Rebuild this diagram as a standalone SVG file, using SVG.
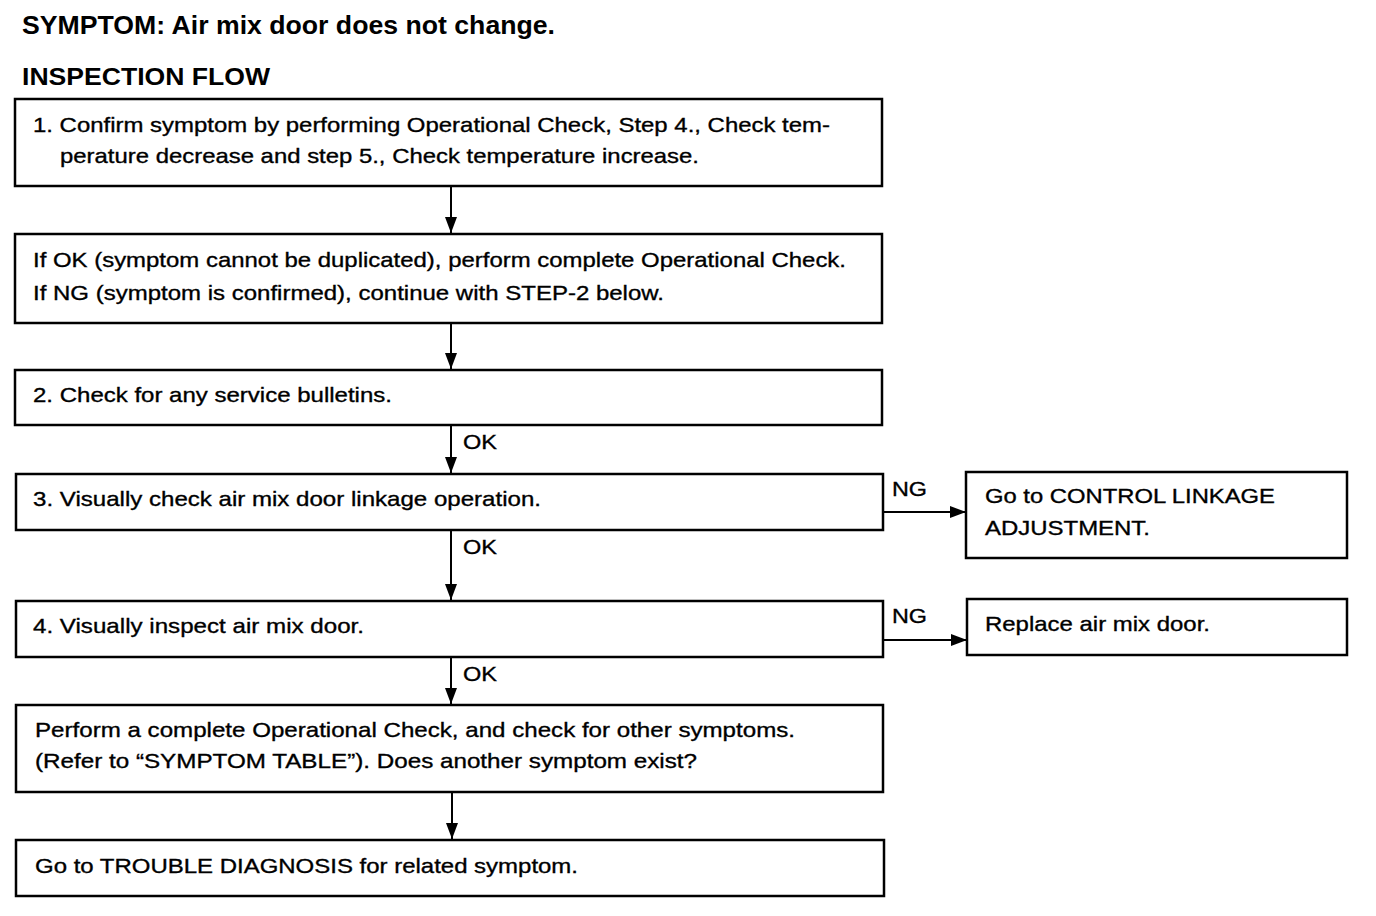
<svg xmlns="http://www.w3.org/2000/svg" width="1376" height="916" viewBox="0 0 1376 916">
<style>
rect.box{fill:#fff;stroke:#000;stroke-width:2.5}
text{font-family:"Liberation Sans",Arial,sans-serif;font-size:21px;fill:#000;stroke:#000;stroke-width:0.35}
text.h{font-weight:bold;font-size:25px;stroke-width:0}
text.h2{font-weight:bold;font-size:24px;stroke-width:0}
.c line{stroke:#000;stroke-width:2}
</style>
<defs>
<marker id="ah" viewBox="0 0 16 12" refX="16" refY="6" markerWidth="16" markerHeight="12" markerUnits="userSpaceOnUse" orient="auto">
<path d="M0,0 L16,6 L0,12 Z" fill="#000"/>
</marker>
</defs>
<rect width="1376" height="916" fill="#fff"/>
<text class="h" x="22" y="34" textLength="533" lengthAdjust="spacingAndGlyphs">SYMPTOM: Air mix door does not change.</text>
<text class="h2" x="22" y="85" textLength="248" lengthAdjust="spacingAndGlyphs">INSPECTION FLOW</text>

<g class="c">
<line x1="451" y1="186" x2="451" y2="233" marker-end="url(#ah)"/>
<line x1="451" y1="323" x2="451" y2="369" marker-end="url(#ah)"/>
<line x1="451" y1="425" x2="451" y2="473" marker-end="url(#ah)"/>
<line x1="451" y1="530" x2="451" y2="600" marker-end="url(#ah)"/>
<line x1="451" y1="657" x2="451" y2="704" marker-end="url(#ah)"/>
<line x1="452" y1="792" x2="452" y2="839" marker-end="url(#ah)"/>
<line x1="883" y1="512" x2="966" y2="512" marker-end="url(#ah)"/>
<line x1="883" y1="640" x2="967" y2="640" marker-end="url(#ah)"/>
<text x="463" y="449" textLength="34" lengthAdjust="spacingAndGlyphs">OK</text>
<text x="463" y="554" textLength="34" lengthAdjust="spacingAndGlyphs">OK</text>
<text x="463" y="681" textLength="34" lengthAdjust="spacingAndGlyphs">OK</text>
<text x="892" y="496" textLength="35" lengthAdjust="spacingAndGlyphs">NG</text>
<text x="892" y="623" textLength="35" lengthAdjust="spacingAndGlyphs">NG</text>
</g>

<g id="n1">
<rect class="box" x="15" y="99" width="867" height="87"/>
<text x="33" y="132" textLength="797" lengthAdjust="spacingAndGlyphs">1. Confirm symptom by performing Operational Check, Step 4., Check tem-</text>
<text x="60" y="163" textLength="639" lengthAdjust="spacingAndGlyphs">perature decrease and step 5., Check temperature increase.</text>
</g>
<g id="n2">
<rect class="box" x="15" y="234" width="867" height="89"/>
<text x="33" y="267" textLength="813" lengthAdjust="spacingAndGlyphs">If OK (symptom cannot be duplicated), perform complete Operational Check.</text>
<text x="33" y="300" textLength="631" lengthAdjust="spacingAndGlyphs">If NG (symptom is confirmed), continue with STEP-2 below.</text>
</g>
<g id="n3">
<rect class="box" x="15" y="370" width="867" height="55"/>
<text x="33" y="402" textLength="359" lengthAdjust="spacingAndGlyphs">2. Check for any service bulletins.</text>
</g>
<g id="n4">
<rect class="box" x="16" y="474" width="867" height="56"/>
<text x="33" y="506" textLength="508" lengthAdjust="spacingAndGlyphs">3. Visually check air mix door linkage operation.</text>
</g>
<g id="n5">
<rect class="box" x="966" y="472" width="381" height="86"/>
<text x="985" y="503" textLength="290" lengthAdjust="spacingAndGlyphs">Go to CONTROL LINKAGE</text>
<text x="985" y="535" textLength="165" lengthAdjust="spacingAndGlyphs">ADJUSTMENT.</text>
</g>
<g id="n6">
<rect class="box" x="16" y="601" width="867" height="56"/>
<text x="33" y="633" textLength="331" lengthAdjust="spacingAndGlyphs">4. Visually inspect air mix door.</text>
</g>
<g id="n7">
<rect class="box" x="967" y="599" width="380" height="56"/>
<text x="985" y="631" textLength="225" lengthAdjust="spacingAndGlyphs">Replace air mix door.</text>
</g>
<g id="n8">
<rect class="box" x="16" y="705" width="867" height="87"/>
<text x="35" y="737" textLength="760" lengthAdjust="spacingAndGlyphs">Perform a complete Operational Check,  and check for other symptoms.</text>
<text x="35" y="768" textLength="662" lengthAdjust="spacingAndGlyphs">(Refer to “SYMPTOM TABLE”). Does another symptom exist?</text>
</g>
<g id="n9">
<rect class="box" x="16" y="840" width="868" height="56"/>
<text x="35" y="873" textLength="543" lengthAdjust="spacingAndGlyphs">Go to TROUBLE DIAGNOSIS for related symptom.</text>
</g>
</svg>
